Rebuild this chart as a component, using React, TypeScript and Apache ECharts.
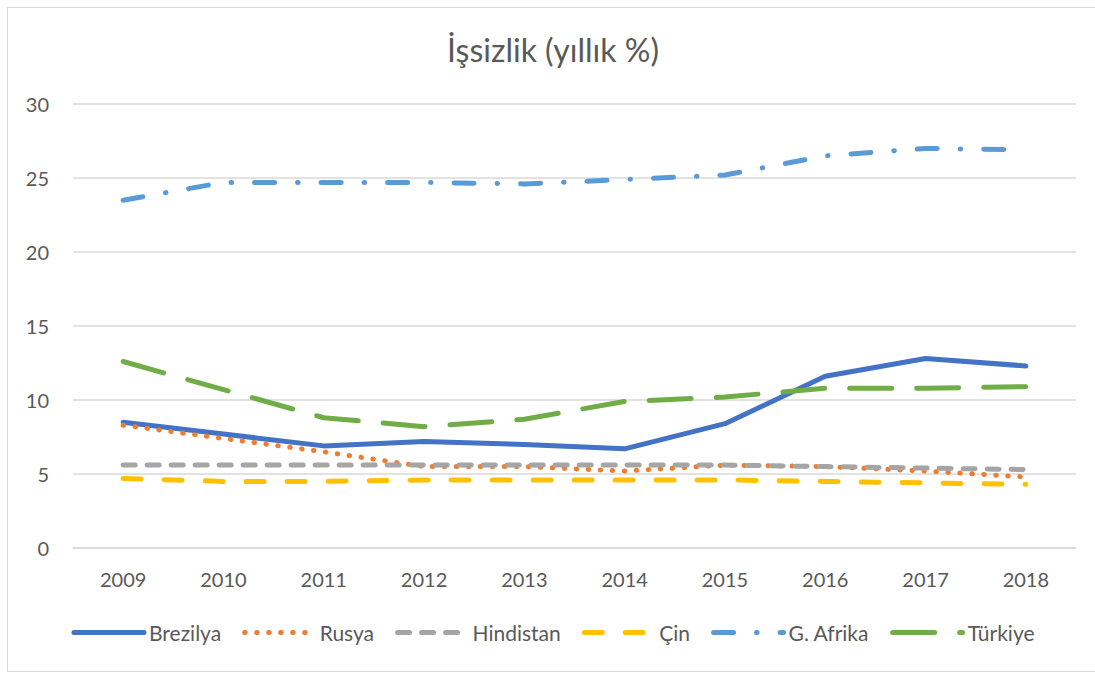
import React, { useEffect, useRef } from "react";
import * as echarts from "echarts";

const years = ["2009", "2010", "2011", "2012", "2013", "2014", "2015", "2016", "2017", "2018"];
const brezilya = [8.5, 7.7, 6.9, 7.2, 7.0, 6.7, 8.4, 11.6, 12.8, 12.3];
const rusya = [8.3, 7.4, 6.5, 5.5, 5.5, 5.2, 5.6, 5.5, 5.2, 4.8];
const hindistan = [5.6, 5.6, 5.6, 5.6, 5.6, 5.6, 5.6, 5.5, 5.4, 5.3];
const cin = [4.7, 4.5, 4.5, 4.6, 4.6, 4.6, 4.6, 4.5, 4.4, 4.3];
const gAfrika = [23.5, 24.7, 24.7, 24.7, 24.6, 24.9, 25.2, 26.5, 27.0, 26.9];
const turkiye = [12.6, 10.7, 8.8, 8.2, 8.7, 9.9, 10.2, 10.8, 10.8, 10.9];

const seriesDefs = [
  { name: "Brezilya", data: brezilya, color: "#4472C4", type: "solid" as any },
  { name: "Rusya", data: rusya, color: "#ED7D31", type: [0.5, 11.5] },
  { name: "Hindistan", data: hindistan, color: "#A5A5A5", type: [12, 12] },
  { name: "Çin", data: cin, color: "#FFC000", type: [18, 23] },
  { name: "G. Afrika", data: gAfrika, color: "#5B9BD5", type: [20, 23, 0.5, 23] },
  { name: "Türkiye", data: turkiye, color: "#70AD47", type: [42, 25] },
];

const FONT = "Lato, 'Open Sans', sans-serif";

export default function App() {
  const ref = useRef<HTMLDivElement>(null);
  useEffect(() => {
    if (!ref.current) return;
    const chart = echarts.init(ref.current, undefined, { renderer: "svg" });
    chart.setOption({
      animation: false,
      backgroundColor: "#ffffff",
      title: {
        text: "İşsizlik (yıllık %)",
        left: "center",
        top: 20,
        textStyle: { fontFamily: FONT, fontSize: 32, fontWeight: "normal", color: "#595959" },
      },
      legend: {
        bottom: 23,
        left: "center",
        itemWidth: 70,
        itemHeight: 12,
        itemGap: 21,
        textStyle: { fontFamily: FONT, fontSize: 21, color: "#595959" },
        lineStyle: { width: 5, cap: "round" },
        itemStyle: { color: "transparent", borderWidth: 0, opacity: 0 },
        data: seriesDefs.map((s) => ({ name: s.name })),
      },
      grid: { left: 65, right: 22, top: 96, bottom: 123, containLabel: false },
      xAxis: {
        type: "category",
        data: years,
        boundaryGap: true,
        axisLine: { show: true, lineStyle: { color: "#D9D9D9", width: 1.5 } },
        axisTick: { show: false },
        axisLabel: { fontFamily: FONT, fontSize: 20, color: "#595959", margin: 21 },
      },
      yAxis: {
        type: "value",
        min: 0,
        max: 30,
        interval: 5,
        axisLine: { show: false },
        axisTick: { show: false },
        splitLine: { lineStyle: { color: "#D9D9D9", width: 1.5 } },
        axisLabel: { fontFamily: FONT, fontSize: 20, color: "#595959", margin: 24 },
      },
      series: seriesDefs.map((s) => ({
        name: s.name,
        type: "line",
        data: s.data,
        symbol: "none",
        color: s.color,
        lineStyle: { color: s.color, width: 5, type: s.type, cap: "round", join: "round" },
      })),
    });
    return () => chart.dispose();
  }, []);
  return (
    <div
      style={{
        position: "absolute",
        left: 7,
        top: 7,
        width: 1092,
        height: 665,
        border: "1px solid #D9D9D9",
        boxSizing: "border-box",
        background: "#fff",
      }}
    >
      <div ref={ref} style={{ width: "100%", height: "100%" }} />
    </div>
  );
}
